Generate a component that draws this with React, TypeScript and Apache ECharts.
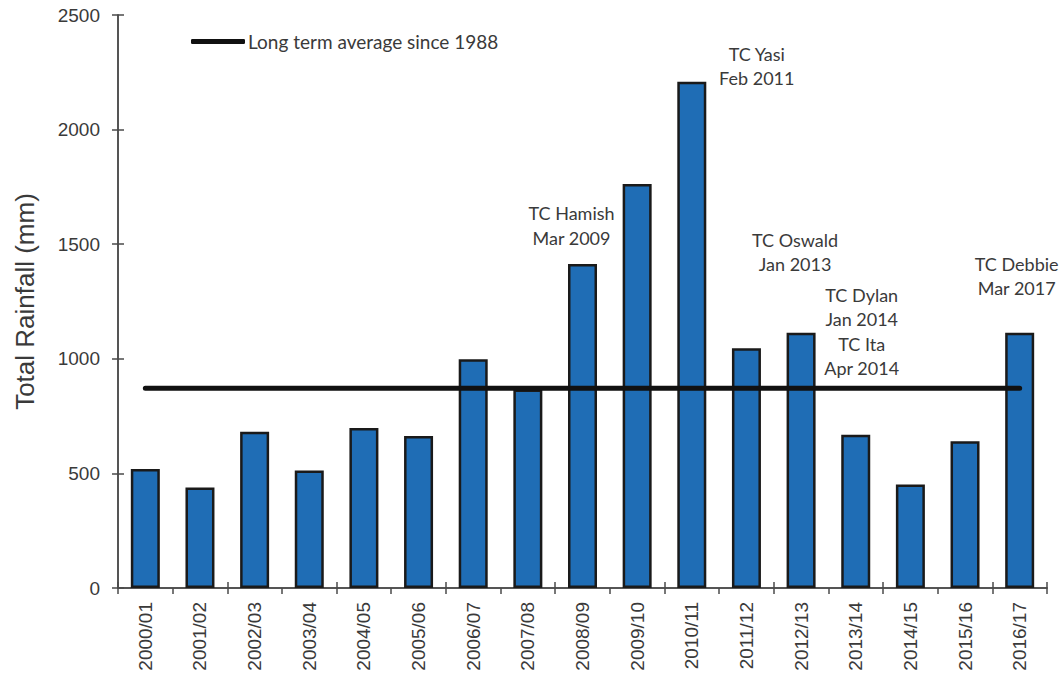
import React, { useEffect, useRef } from "react";
import * as echarts from "echarts";

const categories = [
  "2000/01", "2001/02", "2002/03", "2003/04", "2004/05", "2005/06", "2006/07", "2007/08", "2008/09",
  "2009/10", "2010/11", "2011/12", "2012/13", "2013/14", "2014/15", "2015/16", "2016/17",
];
const rainfall = [519, 439, 682, 513, 698, 663, 998, 866, 1414, 1763, 2209, 1046, 1114, 669, 452, 640, 1114];
const longTermAverage = 871;
const averageName = "Long term average since 1988";
const yTicks = { min: 0, max: 2500, interval: 500 };
const annotations: Record<string, string> = {
  "2008/09": "TC Hamish\nMar 2009",
  "2010/11": "TC Yasi\nFeb 2011",
  "2012/13": "TC Oswald\nJan 2013",
  "2013/14": "TC Dylan\nJan 2014\nTC Ita\nApr 2014",
  "2016/17": "TC Debbie\nMar 2017",
};
// label placement (style only)
const annotationOffsets: Record<string, [number, number]> = {
  "2008/09": [-11, -14],
  "2010/11": [65, 9],
  "2012/13": [-6, -56],
  "2013/14": [6, -54],
  "2016/17": [-3, -32],
};

const AXIS_COLOR = "#4a4a4a";
const TEXT_COLOR = "#3a3a3a";

export default function App() {
  const ref = useRef<HTMLDivElement>(null);
  useEffect(() => {
    if (!ref.current) return;
    const chart = echarts.init(ref.current, null, { renderer: "svg" });
    const barData = rainfall.map((v, i) => {
      const cat = categories[i];
      const text = annotations[cat];
      if (!text) return v;
      return {
        value: v,
        label: {
          show: true,
          position: "top",
          distance: 0,
          offset: annotationOffsets[cat],
          formatter: text,
          fontFamily: "Lato",
          fontSize: 18,
          lineHeight: 24.5,
          color: TEXT_COLOR,
          align: "center",
        },
      };
    });
    const yBase = {
      type: "value",
      min: yTicks.min,
      max: yTicks.max,
      interval: yTicks.interval,
      splitLine: { show: false },
      axisLine: { show: true, lineStyle: { color: AXIS_COLOR, width: 1.5 } },
    };
    const xBase = {
      type: "category",
      data: categories,
      boundaryGap: true,
      axisLine: { show: true, lineStyle: { color: AXIS_COLOR, width: 1.5 } },
    };
    chart.setOption({
      animation: false,
      backgroundColor: "#ffffff",
      grid: { left: 118, right: 16, top: 15, bottom: 89, containLabel: false },
      legend: {
        show: true,
        left: 186,
        top: 27,
        itemWidth: 54,
        itemHeight: 5,
        itemGap: 10,
        data: [{ name: averageName, icon: "roundRect" }],
        textStyle: { fontFamily: "Lato", fontSize: 19, color: TEXT_COLOR, padding: [0, 0, 0, -2] },
      },
      xAxis: [
        {
          ...xBase,
          axisTick: { show: true, inside: false, length: 6, lineStyle: { color: AXIS_COLOR, width: 1.5 } },
          axisLabel: {
            rotate: 90,
            margin: 14,
            fontFamily: "Liberation Sans",
            fontSize: 19,
            color: TEXT_COLOR,
            interval: 0,
          },
        },
        {
          ...xBase,
          position: "bottom",
          axisTick: { show: true, inside: true, length: 6, lineStyle: { color: AXIS_COLOR, width: 1.5 } },
          axisLabel: { show: false },
        },
      ],
      yAxis: [
        {
          ...yBase,
          name: "Total Rainfall (mm)",
          nameLocation: "middle",
          nameGap: 80,
          nameTextStyle: { fontFamily: "Liberation Sans", fontSize: 26, color: TEXT_COLOR },
          axisTick: { show: true, inside: false, length: 6, lineStyle: { color: AXIS_COLOR, width: 1.5 } },
          axisLabel: {
            margin: 18,
            fontFamily: "Liberation Sans",
            fontSize: 19,
            color: TEXT_COLOR,
            formatter: (v: number) => String(v),
          },
        },
        {
          ...yBase,
          position: "left",
          axisTick: { show: true, inside: true, length: 6, lineStyle: { color: AXIS_COLOR, width: 1.5 } },
          axisLabel: { show: false },
        },
      ],
      series: [
        {
          type: "bar",
          name: "Rainfall",
          data: barData,
          barWidth: 29,
          xAxisIndex: 0,
          yAxisIndex: 0,
          itemStyle: { color: "#1f6db5", borderColor: "#1a1a1a", borderWidth: 2.5 },
          z: 2,
        },
        {
          type: "line",
          name: averageName,
          data: categories.map(() => longTermAverage),
          xAxisIndex: 0,
          yAxisIndex: 0,
          symbol: "none",
          itemStyle: { color: "#111111" },
          lineStyle: { color: "#111111", width: 5, cap: "round" },
          z: 3,
        },
      ],
    });
    return () => chart.dispose();
  }, []);
  return (
    <div
      ref={ref}
      style={{ position: "fixed", left: 0, top: 0, width: 1063, height: 677, background: "#fff" }}
    />
  );
}
